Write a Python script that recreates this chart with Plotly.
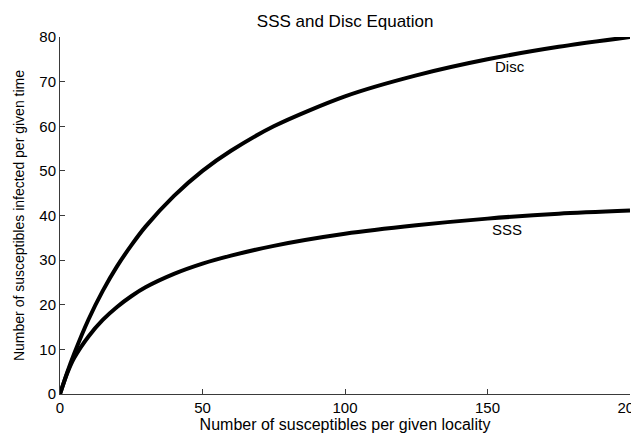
import plotly.graph_objects as go

# values
x_vals = [0, 2.5, 5, 10, 15, 20, 25, 30, 40, 50, 60, 75, 100, 125, 150, 175, 200]
disc_vals = [0, 4.8, 9.1, 16.7, 23.1, 28.6, 33.3, 37.5, 44.4, 50.0, 54.5, 60.0, 66.7, 71.4, 75.0, 77.8, 80.0]
sss_vals = [0, 4.6, 8.1, 12.9, 16.6, 19.5, 21.9, 23.9, 26.9, 29.2, 31.0, 33.2, 35.9, 37.8, 39.3, 40.4, 41.1]

x_ticks = [0, 50, 100, 150, 200]
y_ticks = [0, 10, 20, 30, 40, 50, 60, 70, 80]

title_text = "SSS and Disc Equation"
x_title = "Number of susceptibles per given locality"
y_title = "Number of susceptibles infected per given time"
labels = [("Disc", 158, 73.5), ("SSS", 157, 36.9)]

FONT = "Liberation Sans, Arial, Helvetica, sans-serif"
AXIS_COLOR = "#3a3a3a"

fig = go.Figure()
for ys in (disc_vals, sss_vals):
    fig.add_trace(go.Scatter(
        x=x_vals, y=ys, mode="lines",
        line=dict(color="black", width=4, shape="spline", smoothing=0.8),
        showlegend=False, hoverinfo="skip", cliponaxis=False,
    ))

for text, lx, ly in labels:
    fig.add_annotation(x=lx, y=ly, text=text, showarrow=False,
                       xanchor="center", yanchor="middle",
                       font=dict(family=FONT, size=15, color="black"))

fig.update_layout(
    width=631, height=433,
    margin=dict(l=60, r=1, t=37, b=39, autoexpand=False),
    paper_bgcolor="white", plot_bgcolor="white",
    title=dict(text=title_text, x=0.547, xanchor="center",
               y=1 - 21.5 / 433, yanchor="middle", yref="container",
               font=dict(family=FONT, size=17, color="black")),
    font=dict(family=FONT, color="black"),
)
fig.update_xaxes(
    range=[0, 200], tickvals=x_ticks, ticktext=[str(v) for v in x_ticks],
    showgrid=False, zeroline=False, showline=True, linecolor=AXIS_COLOR, linewidth=1,
    ticks="inside", ticklen=5, tickcolor=AXIS_COLOR, tickwidth=1,
    tickfont=dict(family=FONT, size=15, color="black"),
    ticklabeloverflow="allow",
    title=dict(text=x_title, standoff=6, font=dict(family=FONT, size=16, color="black")),
    automargin=False, mirror=False,
)
fig.update_yaxes(
    range=[0, 80], tickvals=y_ticks, ticktext=[str(v) for v in y_ticks],
    showgrid=False, zeroline=False, showline=True, linecolor=AXIS_COLOR, linewidth=1,
    ticks="inside", ticklen=5, tickcolor=AXIS_COLOR, tickwidth=1,
    tickfont=dict(family=FONT, size=15, color="black"),
    ticklabeloverflow="allow",
    title=dict(text=y_title, standoff=11, font=dict(family=FONT, size=14, color="black")),
    automargin=False, mirror=False,
)

fig.write_html(
    "out.html",
    config={"displayModeBar": False},
    post_script="document.body.style.margin='0';document.body.style.padding='0';document.body.style.overflow='hidden';",
)
